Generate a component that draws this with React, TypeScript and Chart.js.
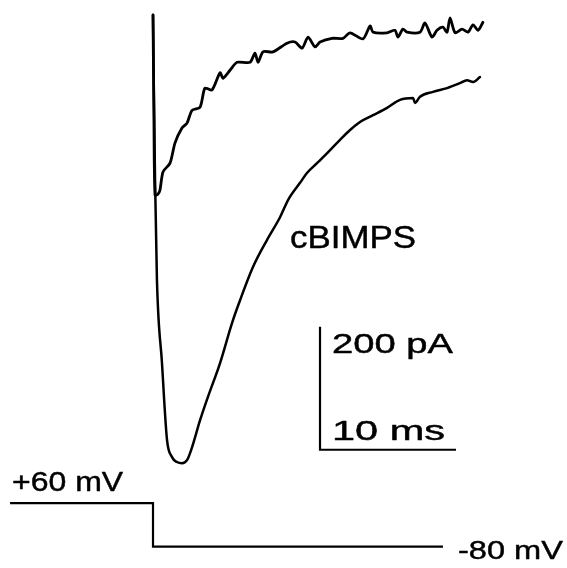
import React, { useEffect, useRef } from "react";
import { Chart, registerables } from "chart.js";

Chart.register(...registerables);

// time in ms relative to the voltage step, current in pA
const fastT = [0, 0.07, 0.15, 0.37, 0.51, 0.74, 1.25, 1.62, 2.13, 2.5, 2.87, 3.46, 3.82, 4.34, 4.93, 5.15, 5.66, 6.18, 7.13, 7.5, 7.72, 8.09, 8.82, 9.85, 10.44, 10.96, 11.4, 11.91, 12.28, 13.16, 13.97, 14.49, 15.44, 15.96, 16.18, 17.21, 17.79, 18.01, 18.38, 18.68, 19.63, 20.0, 20.51, 20.88, 21.32, 21.62, 21.84, 22.21, 22.72, 23.16, 23.53, 23.9, 24.26];
const fastI = [-8, -179, -301, -299, -293, -263, -249, -216, -192, -184, -163, -158, -127, -130, -102, -111, -98, -85, -85, -70, -85, -68, -68, -54, -52, -62, -44, -60, -52, -46, -46, -37, -47, -26, -36, -37, -33, -44, -31, -36, -36, -21, -44, -33, -28, -36, -13, -37, -31, -36, -24, -33, -20];

const slowT = [0, 0.07, 0.15, 0.29, 0.66, 1.03, 1.4, 1.76, 2.13, 2.5, 2.87, 3.46, 4.04, 4.93, 5.81, 6.4, 7.35, 8.38, 9.34, 9.93, 10.81, 11.32, 12.06, 12.79, 13.75, 14.49, 15.22, 16.18, 17.21, 18.16, 19.12, 19.26, 19.63, 20.59, 21.62, 22.57, 23.09, 23.53, 24.04];
const slowI = [-8, -146, -276, -439, -574, -699, -727, -735, -737, -732, -711, -667, -629, -574, -509, -472, -418, -374, -337, -309, -281, -265, -249, -233, -211, -195, -182, -171, -159, -146, -143, -151, -141, -133, -127, -119, -114, -117, -109];

// voltage protocol (mV)
const stepT = [-10.51, 0, 0, 21.32];
const stepV = [60, 60, -80, -80];

// scale bar: 200 pA, 10 ms
const barT = [12.28, 12.28, 22.28];
const barI = [-515, -715, -715];

const labels = {
  trace: "cBIMPS",
  current: "200 pA",
  time: "10 ms",
  hold: "+60 mV",
  test: "-80 mV",
};

function pts(xs: number[], ys: number[]) {
  return xs.map((x, i) => ({ x, y: ys[i] }));
}

const FONT = '"Liberation Sans", Arial, Helvetica, sans-serif';

function drawStretched(ctx: CanvasRenderingContext2D, text: string, left: number, baseline: number, size: number, width: number) {
  ctx.save();
  ctx.font = `${size}px ${FONT}`;
  ctx.fillStyle = "#000";
  ctx.strokeStyle = "#000";
  ctx.lineWidth = 0.45;
  ctx.lineJoin = "round";
  ctx.textBaseline = "alphabetic";
  ctx.textAlign = "left";
  const w = ctx.measureText(text).width;
  ctx.translate(left, baseline);
  ctx.scale(width / w, 1);
  ctx.fillText(text, 0, 0);
  ctx.strokeText(text, 0, 0);
  ctx.restore();
}

const textPlugin = {
  id: "figText",
  afterDatasetsDraw(chart: any) {
    const ctx = chart.ctx as CanvasRenderingContext2D;
    const x = chart.scales.x;
    const y = chart.scales.y;
    const yv = chart.scales.yv;
    const bx = x.getPixelForValue(barT[0]);
    drawStretched(ctx, labels.trace, x.getPixelForValue(slowT[19]) + 2, y.getPixelForValue(slowI[17]) + 8, 31, 126);
    drawStretched(ctx, labels.current, bx + 12, y.getPixelForValue(barI[0]) + 26, 27, 121);
    drawStretched(ctx, labels.time, bx + 12, y.getPixelForValue(barI[1]) - 10, 27, 113);
    drawStretched(ctx, labels.hold, x.getPixelForValue(stepT[0]) + 2, yv.getPixelForValue(stepV[0]) - 12, 27, 111);
    drawStretched(ctx, labels.test, x.getPixelForValue(stepT[3]) + 15, yv.getPixelForValue(stepV[3]) + 12, 26, 105);
  },
};

export default function App() {
  const ref = useRef<HTMLCanvasElement>(null);
  useEffect(() => {
    if (!ref.current) return;
    const common = { borderColor: "#000", pointRadius: 0, tension: 0, fill: false, clip: false as any, showLine: true, borderJoinStyle: "round" as any, borderCapStyle: "round" as any };
    const chart = new Chart(ref.current, {
      type: "scatter",
      data: {
        datasets: [
          { ...common, data: pts(fastT, fastI), borderWidth: 2.8, yAxisID: "y", tension: 0.25 },
          { ...common, data: pts(slowT, slowI), borderWidth: 2.5, yAxisID: "y", cubicInterpolationMode: "monotone" as any },
          { ...common, data: pts(stepT, stepV), borderWidth: 2.2, yAxisID: "yv", borderCapStyle: "butt" as any, borderJoinStyle: "miter" as any },
          { ...common, data: pts(barT, barI), borderWidth: 2.2, yAxisID: "y", borderCapStyle: "butt" as any, borderJoinStyle: "miter" as any },
        ],
      },
      options: {
        animation: false,
        responsive: false,
        maintainAspectRatio: false,
        layout: { padding: 0 },
        plugins: { legend: { display: false }, tooltip: { enabled: false } },
        scales: {
          x: { type: "linear", display: false, min: -11.25, max: 30.44 },
          y: { type: "linear", display: false, min: -907.3, max: 16.3 },
          yv: { type: "linear", display: false, min: -149, max: 1679 },
        },
      },
      plugins: [textPlugin],
    });
    return () => chart.destroy();
  }, []);
  return (
    <div style={{ position: "absolute", left: 0, top: 0, width: 567, height: 568, background: "#fff" }}>
      <canvas ref={ref} width={567} height={568} style={{ display: "block" }} />
    </div>
  );
}
